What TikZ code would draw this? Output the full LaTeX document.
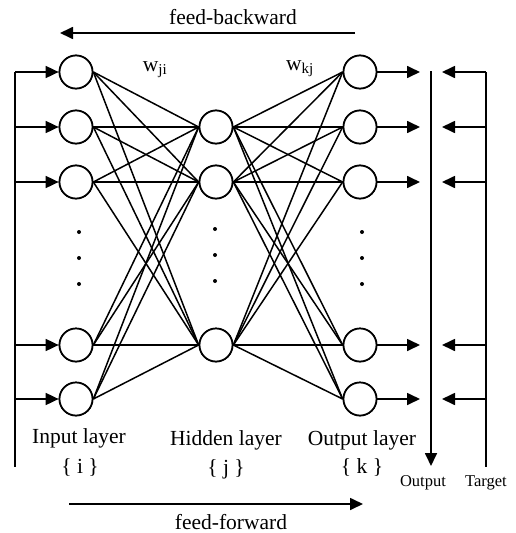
\documentclass[tikz,border=0pt]{standalone}
\usepackage{fontspec}
\setmainfont{Liberation Serif}
\usetikzlibrary{arrows.meta}
\begin{document}
\begin{tikzpicture}[x=1pt,y=-1pt,
  neuron/.style={circle,draw,line width=1.7pt,minimum size=33pt,inner sep=0pt,fill=white},
  conn/.style={line width=1.5pt},
  arr/.style={line width=1.7pt,-{Triangle[length=13pt,width=12pt]}},
  lbl/.style={font=\fontsize{21.5}{25}\selectfont,inner sep=0pt},
  small/.style={font=\fontsize{16.5}{20}\selectfont,inner sep=0pt},
  vdot/.style={circle,fill,inner sep=0pt,minimum size=4pt}]
\useasboundingbox (0,0) rectangle (515,533);
% nodes
\foreach \n/\y in {1/72,2/127,3/182,4/345,5/399}{
  \node[neuron] (i\n) at (76,\y) {};
  \node[neuron] (o\n) at (360,\y) {};
}
\foreach \n/\y in {1/127,2/182,3/345}{
  \node[neuron] (h\n) at (216,\y) {};
}
% connections
\foreach \a in {1,...,5}{
  \foreach \b in {1,2,3}{
    \draw[conn] (i\a.east) -- (h\b.west);
    \draw[conn] (h\b.east) -- (o\a.west);
  }
}
% redraw neurons on top
\foreach \n/\y in {1/72,2/127,3/182,4/345,5/399}{
  \node[neuron] at (76,\y) {};
  \node[neuron] at (360,\y) {};
}
\foreach \n/\y in {1/127,2/182,3/345}{
  \node[neuron] at (216,\y) {};
}
% dots
\foreach \y in {232,258,284}{
  \node[vdot] (di\y) at (79,\y) {};
  \node[vdot] (do\y) at (362,\y) {};
}
\foreach \y in {229,255,281}{
  \node[vdot] (dh\y) at (215,\y) {};
}
% input side
\coordinate (ltop) at (15,72);
\coordinate (lbot) at (15,467);
\draw[line width=1.7pt] (ltop) -- (lbot);
\foreach \n/\y in {1/72,2/127,3/182,4/345,5/399}{
  \coordinate (li\n) at (15,\y);
  \draw[arr] (li\n) -- (i\n.west);
}
% output side
\foreach \n/\y in {1/72,2/127,3/182,4/345,5/399}{
  \coordinate (oe\n) at (420,\y);
  \draw[arr] (o\n.east) -- (oe\n);
  \coordinate (ts\n) at (486,\y);
  \coordinate (te\n) at (442,\y);
  \draw[arr] (ts\n) -- (te\n);
}
\coordinate (otop) at (431,71);
\coordinate (obot) at (431,466);
\draw[arr] (otop) -- (obot);
\coordinate (ttop) at (486,72);
\coordinate (tbot) at (486,467);
\draw[line width=1.7pt] (ttop) -- (tbot);
% weights
\node[lbl] (wji) at (155,70) {w\textsubscript{ji}};
\node[lbl] (wkj) at (300,69) {w\textsubscript{kj}};
% feed arrows
\node[lbl] (fb) at (233,17) {feed-backward};
\coordinate (fbs) at (355,33);
\coordinate (fbe) at (60,33);
\draw[arr] (fbs) -- (fbe);
\coordinate (ffs) at (69,504);
\coordinate (ffe) at (363,504);
\draw[arr] (ffs) -- (ffe);
\node[lbl] (ff) at (231,522) {feed-forward};
% layer labels
\node[lbl] (il) at (79,438) {Input layer};
\node[lbl] (ii) at (80,467) {\{ i \}};
\node[lbl] (hl) at (226,440) {Hidden layer};
\node[lbl] (hj) at (226,469) {\{ j \}};
\node[lbl] (ol) at (362,440) {Output layer};
\node[lbl] (ok) at (362,467) {\{ k \}};
\node[small] (out) at (423,483) {Output};
\node[small] (tgt) at (486,483) {Target};
\end{tikzpicture}
\end{document}
